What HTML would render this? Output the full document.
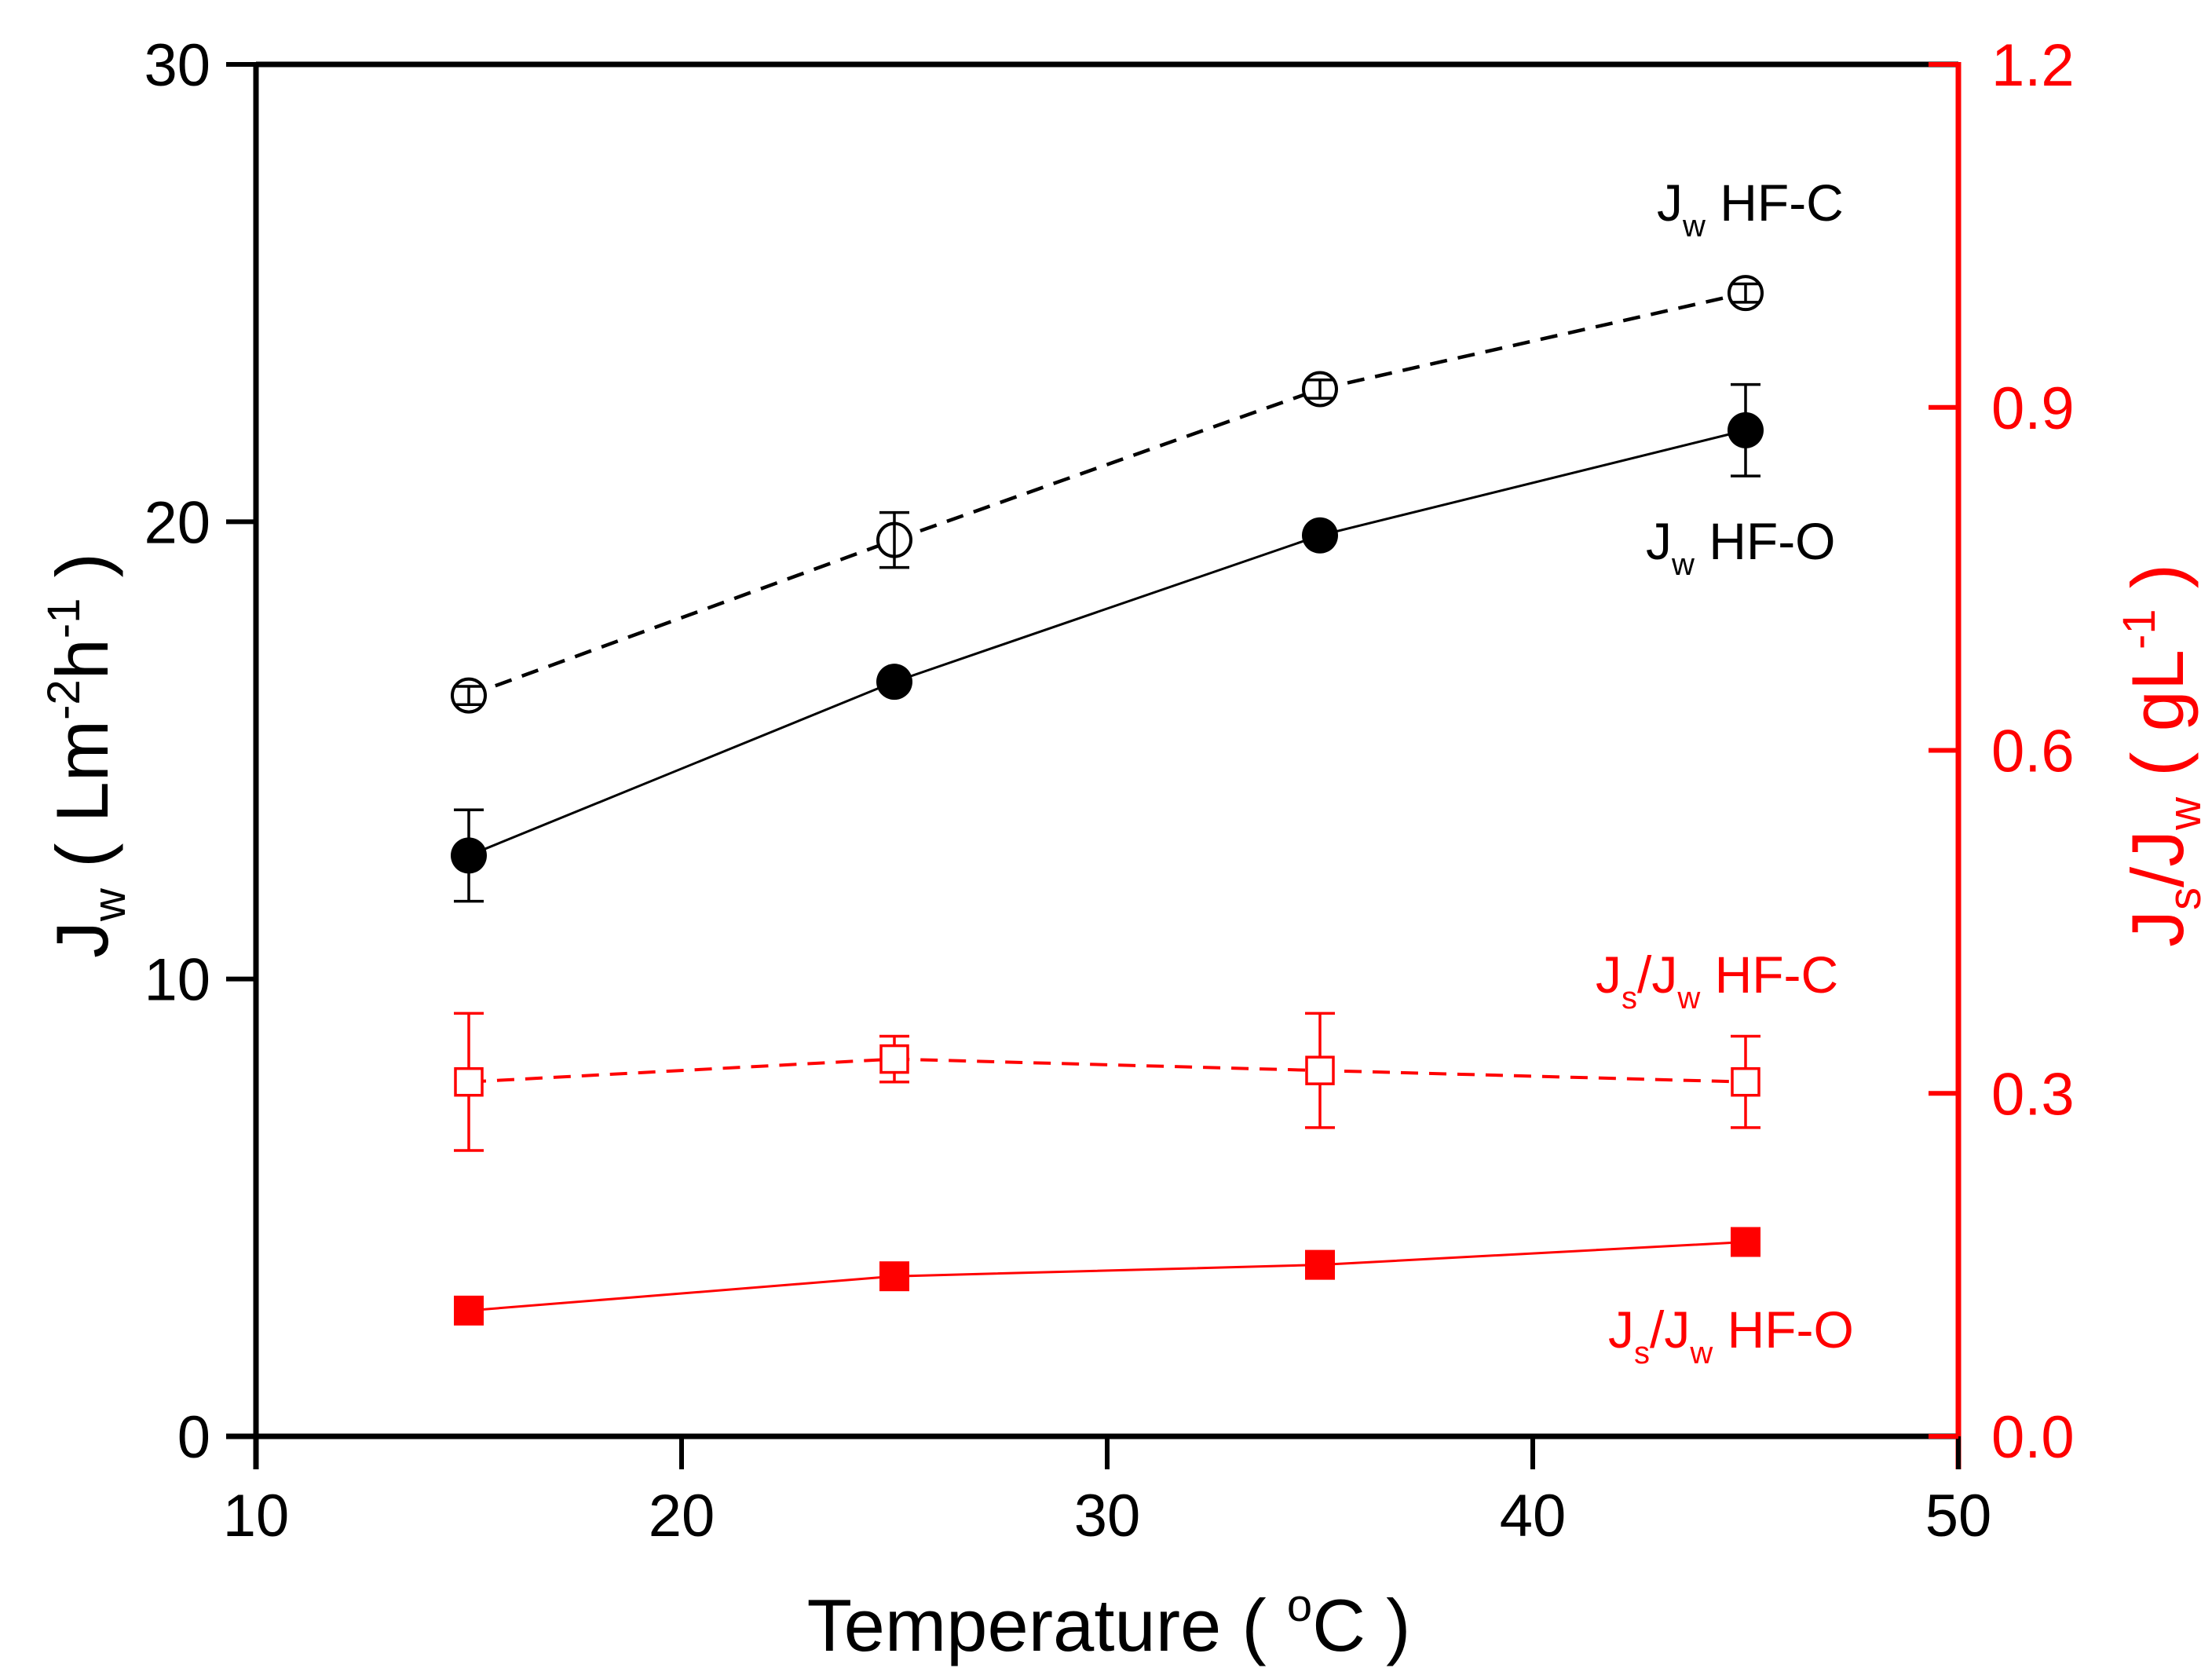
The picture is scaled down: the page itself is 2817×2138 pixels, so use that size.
<!DOCTYPE html>
<html><head><meta charset="utf-8"><style>
html,body{margin:0;padding:0;background:#fff}
svg{display:block;font-family:"Liberation Sans",Arial,sans-serif}
</style></head><body>
<svg id="chart" width="2817" height="2138" viewBox="0 0 2817 2138" xmlns="http://www.w3.org/2000/svg">
<rect width="2817" height="2138" fill="#fff"/>
<g id="axes"></g>
<g id="series"></g>
<text x="1412" y="2102" font-size="94" text-anchor="middle">Temperature ( <tspan dy="-38" font-size="58">o</tspan><tspan dy="38">C )</tspan></text>
<text transform="translate(137,962) rotate(-90)" font-size="94" text-anchor="middle">J<tspan font-size="58" dy="22">w</tspan><tspan dy="-22"> ( Lm</tspan><tspan font-size="58" dy="-36">-2</tspan><tspan dy="36">h</tspan><tspan font-size="58" dy="-36">-1</tspan><tspan dy="36"> )</tspan></text>
<text transform="translate(2780,962) rotate(-90)" font-size="94" text-anchor="middle" fill="#ff0000">J<tspan font-size="58" dy="22">s</tspan><tspan dy="-22">/J</tspan><tspan font-size="58" dy="22">w</tspan><tspan dy="-22"> ( gL</tspan><tspan font-size="58" dy="-36">-1</tspan><tspan dy="36"> )</tspan></text>
<text x="2110" y="281" font-size="66">J<tspan font-size="40" dy="20">w</tspan><tspan dy="-20"> HF-C</tspan></text>
<text x="2096" y="712" font-size="66">J<tspan font-size="40" dy="20">w</tspan><tspan dy="-20"> HF-O</tspan></text>
<text x="2032" y="1264" font-size="66" fill="#ff0000">J<tspan font-size="40" dy="20">s</tspan><tspan dy="-20">/J</tspan><tspan font-size="40" dy="20">w</tspan><tspan dy="-20"> HF-C</tspan></text>
<text x="2048" y="1716" font-size="66" fill="#ff0000">J<tspan font-size="40" dy="20">s</tspan><tspan dy="-20">/J</tspan><tspan font-size="40" dy="20">w</tspan><tspan dy="-20"> HF-O</tspan></text>
</svg>
<script>
const temps = [15, 25, 35, 45];
const jwHFC = [16.2, 19.6, 22.9, 25.0];
const jwHFCerr = [0.2, 0.6, 0.2, 0.2];
const jwHFO = [12.7, 16.5, 19.7, 22.0];
const jwHFOerr = [1.0, 0, 0, 1.0];
const ratioHFC = [0.31, 0.33, 0.32, 0.31];
const ratioHFCerr = [0.06, 0.02, 0.05, 0.04];
const ratioHFO = [0.11, 0.14, 0.15, 0.17];
const xTicks = [10, 20, 30, 40, 50];
const yLeftTicks = [0, 10, 20, 30];
const yRightTicks = ["0.0", "0.3", "0.6", "0.9", "1.2"];

const X0=326, X1=2494, Y0=1829, Y1=82;
const sx = v => X0 + (v-10)/40*(X1-X0);
const syL = v => Y0 - v/30*(Y0-Y1);
const syR = v => Y0 - v/1.2*(Y0-Y1);
const NS="http://www.w3.org/2000/svg";
function mk(tag, attrs, parent){const e=document.createElementNS(NS,tag);for(const k in attrs)e.setAttribute(k,attrs[k]);parent.appendChild(e);return e;}
const ax=document.getElementById('axes'), sr=document.getElementById('series');

let e;
e=mk('line',{x1:X0,y1:Y1,x2:X1,y2:Y1,stroke:'#000','stroke-width':7},ax);


e=mk('line',{x1:X0-38,y1:Y0,x2:X1,y2:Y0,stroke:'#000','stroke-width':7},ax);


e=mk('line',{x1:X0,y1:Y1-3,x2:X0,y2:Y0+42,stroke:'#000','stroke-width':7},ax);


e=mk('line',{x1:X1,y1:Y1-3,x2:X1,y2:Y0+42,stroke:'#ff0000','stroke-width':7},ax);



xTicks.forEach(t=>{
  const x=sx(t);
  const l=mk('line',{x1:x,y1:Y0,x2:x,y2:Y0+42,stroke:'#000','stroke-width':6},ax);
  
  
  const tx=mk('text',{x:x,y:1956,'font-size':76,'text-anchor':'middle'},ax);
  tx.textContent=t;
  
  
});
yLeftTicks.forEach(t=>{
  const y=syL(t);
  const l=mk('line',{x1:X0-38,y1:y,x2:X0,y2:y,stroke:'#000','stroke-width':6},ax);
  
  
  const tx=mk('text',{x:268,y:y+27,'font-size':76,'text-anchor':'end'},ax);
  tx.textContent=t;
  
  
});
yRightTicks.forEach(t=>{
  const y=syR(parseFloat(t));
  const l=mk('line',{x1:X1-38,y1:y,x2:X1,y2:y,stroke:'#ff0000','stroke-width':6},ax);
  
  
  const tx=mk('text',{x:2536,y:y+27,'font-size':76,fill:'#ff0000'},ax);
  tx.textContent=t;
  
  
});

function pathOf(vals, sy){return vals.map((v,i)=>(i?'L':'M')+sx(temps[i])+' '+sy(v)).join(' ');}
function errbar(x,y1,y2,color,name){
  const g=mk('g',{stroke:color,'stroke-width':3.5,fill:'none'},sr);
  
  
  mk('line',{x1:x,y1:y1,x2:x,y2:y2},g);
  mk('line',{x1:x-19,y1:y1,x2:x+19,y2:y1},g);
  mk('line',{x1:x-19,y1:y2,x2:x+19,y2:y2},g);
}

e=mk('path',{d:pathOf(jwHFC,syL),stroke:'#000','stroke-width':4.5,fill:'none','stroke-dasharray':'22 14'},sr);


e=mk('path',{d:pathOf(jwHFO,syL),stroke:'#000','stroke-width':3,fill:'none'},sr);


e=mk('path',{d:pathOf(ratioHFC,syR),stroke:'#ff0000','stroke-width':4,fill:'none','stroke-dasharray':'22 14'},sr);


e=mk('path',{d:pathOf(ratioHFO,syR),stroke:'#ff0000','stroke-width':3,fill:'none'},sr);



temps.forEach((t,i)=>{
  const x=sx(t);
  let y=syL(jwHFC[i]);
  e=mk('circle',{cx:x,cy:y,r:21,fill:'#fff',stroke:'#000','stroke-width':4},sr);
  
  
  errbar(x,syL(jwHFC[i]+jwHFCerr[i]),syL(jwHFC[i]-jwHFCerr[i]),'#000','errorbar-jw-hf-c');
  y=syL(jwHFO[i]);
  if(jwHFOerr[i]>0) errbar(x,syL(jwHFO[i]+jwHFOerr[i]),syL(jwHFO[i]-jwHFOerr[i]),'#000','errorbar-jw-hf-o');
  e=mk('circle',{cx:x,cy:y,r:23,fill:'#000'},sr);
  
  
  y=syR(ratioHFC[i]);
  errbar(x,syR(ratioHFC[i]+ratioHFCerr[i]),syR(ratioHFC[i]-ratioHFCerr[i]),'#ff0000','errorbar-jsjw-hf-c');
  e=mk('rect',{x:x-17,y:y-17,width:34,height:34,fill:'#fff',stroke:'#ff0000','stroke-width':3.5},sr);
  
  
  y=syR(ratioHFO[i]);
  e=mk('rect',{x:x-19,y:y-19,width:38,height:38,fill:'#ff0000'},sr);
  
  
});
</script>
</body></html>
